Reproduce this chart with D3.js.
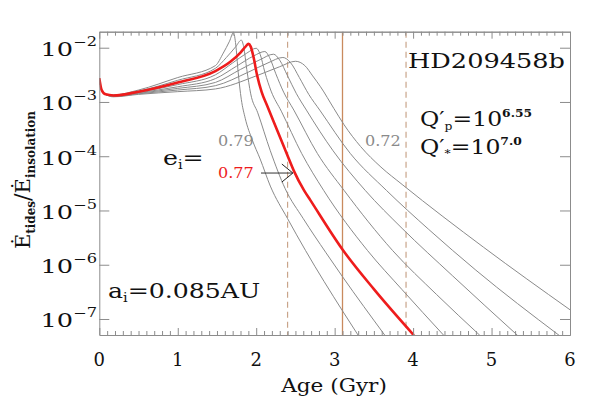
<!DOCTYPE html>
<html>
<head>
<meta charset="utf-8">
<script src="https://cdn.jsdelivr.net/npm/d3@7"></script>
<style>
  body { margin: 0; background: #fff; }
  text { font-family: "DejaVu Serif", serif; fill: #111; }
</style>
</head>
<body>
<svg id="chart" width="599" height="399"></svg>
<script>
// tidal heating / insolation vs age, one curve per initial eccentricity
// values are [age (Gyr), log10(Edot_tides / Edot_insolation)]
let eccs = [0.79, 0.78, 0.77, 0.76, 0.75, 0.74, 0.73, 0.72]
let redEcc = 0.77

let c079 = [[0,-2.56],[0.03,-2.78],[0.08,-2.86],[0.18,-2.87],[0.5,-2.78],[1.0,-2.55],[1.48,-2.33],[1.58,-2.10],[1.66,-1.88],[1.71,-1.72],[1.74,-1.95],[1.77,-2.45],[1.81,-2.95],[1.86,-3.3],[1.95,-3.7],[2.05,-4.05],[2.18,-4.55],[2.40,-5.15],[2.63,-5.74],[3.10,-6.85],[3.30,-7.3]]
let c078 = [[0,-2.56],[0.03,-2.78],[0.08,-2.86],[0.18,-2.875],[0.5,-2.80],[1.0,-2.60],[1.48,-2.38],[1.62,-2.18],[1.74,-1.98],[1.81,-1.86],[1.84,-1.98],[1.88,-2.4],[1.93,-2.85],[2.02,-3.2],[2.18,-3.9],[2.37,-4.6],[2.60,-5.15],[2.89,-5.78],[3.10,-6.22],[3.64,-7.3]]
let c077 = [[0,-2.56],[0.03,-2.78],[0.08,-2.86],[0.18,-2.88],[0.5,-2.81],[1.0,-2.64],[1.48,-2.43],[1.67,-2.26],[1.80,-2.09],[1.87,-1.97],[1.90,-1.93],[1.93,-1.98],[1.97,-2.2],[2.01,-2.5],[2.07,-2.82],[2.14,-3.07],[2.27,-3.53],[2.40,-3.99],[2.48,-4.27],[2.61,-4.63],[2.69,-4.81],[3.10,-5.72],[3.5,-6.45],[4.01,-7.3]]
let c076 = [[0,-2.56],[0.03,-2.78],[0.08,-2.86],[0.18,-2.885],[0.5,-2.82],[1.0,-2.68],[1.48,-2.50],[1.70,-2.28],[1.88,-2.10],[2.00,-2.01],[2.05,-2.12],[2.11,-2.45],[2.19,-2.8],[2.32,-3.17],[2.58,-3.95],[2.86,-4.63],[3.42,-5.74],[3.86,-6.46],[4.39,-7.3]]
let c075 = [[0,-2.56],[0.03,-2.78],[0.08,-2.86],[0.18,-2.89],[0.5,-2.83],[1.0,-2.72],[1.48,-2.57],[1.75,-2.34],[1.97,-2.15],[2.11,-2.07],[2.17,-2.18],[2.25,-2.48],[2.35,-2.82],[2.48,-3.15],[2.78,-3.95],[3.12,-4.63],[3.74,-5.74],[4.30,-6.55],[4.85,-7.3]]
let c074 = [[0,-2.56],[0.03,-2.78],[0.08,-2.86],[0.18,-2.895],[0.5,-2.84],[1.0,-2.75],[1.48,-2.64],[1.80,-2.40],[2.05,-2.22],[2.22,-2.12],[2.30,-2.23],[2.40,-2.52],[2.51,-2.84],[2.64,-3.15],[2.98,-3.9],[3.39,-4.63],[3.86,-5.33],[4.5,-6.2],[5.33,-7.3]]
let c073 = [[0,-2.56],[0.03,-2.78],[0.08,-2.86],[0.18,-2.90],[0.5,-2.85],[1.0,-2.78],[1.48,-2.70],[1.90,-2.45],[2.15,-2.28],[2.34,-2.18],[2.44,-2.28],[2.55,-2.55],[2.67,-2.86],[2.81,-3.15],[3.2,-3.95],[3.66,-4.63],[4.2,-5.35],[4.8,-6.1],[5.86,-7.3]]
let c072 = [[0,-2.56],[0.03,-2.78],[0.08,-2.86],[0.18,-2.905],[0.5,-2.86],[1.0,-2.81],[1.48,-2.76],[2.00,-2.52],[2.30,-2.35],[2.50,-2.25],[2.62,-2.33],[2.72,-2.52],[2.82,-2.72],[2.99,-3.12],[3.12,-3.42],[3.33,-3.82],[3.59,-4.2],[3.86,-4.52],[4.9,-5.68],[6.0,-6.83]]
let curves = [c079, c078, c077, c076, c075, c074, c073, c072]

// vertical markers (Gyr)
let dashedAges = [2.40, 3.91]
let solidAge = 3.10

let xTicks = [0, 1, 2, 3, 4, 5, 6]
let yTickExps = [-2, -3, -4, -5, -6, -7]

let svg = d3.select('#chart')
let mLeft = 99.3, mRight = 570, mTop = 31.7, mBottom = 335

let x = d3.scaleLinear().domain([0, 6]).range([mLeft, mRight])
let y = d3.scaleLog().domain([Math.pow(10, -7.295), Math.pow(10, -1.705)]).range([mBottom, mTop])

svg.append('clipPath').attr('id', 'clip')
    .append('rect').attr('x', mLeft).attr('y', mTop).attr('width', mRight - mLeft).attr('height', mBottom - mTop)

let plot = svg.append('g').attr('clip-path', 'url(#clip)')

// vertical lines
plot.selectAll('.vdash').data(dashedAges).enter().append('line')
    .attr('x1', d => x(d)).attr('x2', d => x(d))
    .attr('y1', mTop).attr('y2', mBottom)
    .attr('stroke', '#c9a48a').attr('stroke-width', 1.2)
    .attr('stroke-dasharray', '6,4')
plot.append('line')
    .attr('x1', x(solidAge)).attr('x2', x(solidAge))
    .attr('y1', mTop).attr('y2', mBottom)
    .attr('stroke', '#c98a5e').attr('stroke-width', 1.3)

let line = d3.line()
    .x(d => x(d[0]))
    .y(d => y(Math.pow(10, d[1])))
    .curve(d3.curveMonotoneX)

// grey curves first, red on top
curves.forEach(function (c, i) {
    if (eccs[i] === redEcc) return
    plot.append('path').datum(c)
        .attr('d', line)
        .attr('fill', 'none')
        .attr('stroke', '#8a8a8a')
        .attr('stroke-width', 1)
})
plot.append('path').datum(curves[eccs.indexOf(redEcc)])
    .attr('d', line)
    .attr('fill', 'none')
    .attr('stroke', '#ee1c1c')
    .attr('stroke-width', 2.6)

// axes, ticks inward
let axisColor = '#8c8c8c'
let minorX = d3.range(0, 61).map(d => d / 10).filter(d => d % 1 !== 0)
let yVals = yTickExps.map(e => Math.pow(10, e))

function styleAxis(g) {
    g.selectAll('path, line').attr('stroke', axisColor)
    g.selectAll('text').remove()
}
svg.append('g').attr('transform', 'translate(0,' + mBottom + ')')
    .call(d3.axisBottom(x).tickValues(xTicks).tickSize(-7).tickSizeOuter(0)).call(styleAxis)
svg.append('g').attr('transform', 'translate(0,' + mBottom + ')')
    .call(d3.axisBottom(x).tickValues(minorX).tickSize(-4).tickSizeOuter(0)).call(styleAxis)
svg.append('g').attr('transform', 'translate(0,' + mTop + ')')
    .call(d3.axisTop(x).tickValues(xTicks).tickSize(-7).tickSizeOuter(0)).call(styleAxis)
svg.append('g').attr('transform', 'translate(0,' + mTop + ')')
    .call(d3.axisTop(x).tickValues(minorX).tickSize(-4).tickSizeOuter(0)).call(styleAxis)
svg.append('g').attr('transform', 'translate(' + mLeft + ',0)')
    .call(d3.axisLeft(y).tickValues(yVals).tickSize(-10).tickSizeOuter(0)).call(styleAxis)
svg.append('g').attr('transform', 'translate(' + mRight + ',0)')
    .call(d3.axisRight(y).tickValues(yVals).tickSize(-10).tickSizeOuter(0)).call(styleAxis)

// tick labels
svg.selectAll('.xlab').data(xTicks).enter().append('text')
    .attr('x', d => x(d)).attr('y', 366)
    .attr('text-anchor', 'middle')
    .style('font-size', '18px')
    .text(d => d)

yTickExps.forEach(function (e) {
    let t = svg.append('text')
        .attr('transform', 'translate(97,' + (y(Math.pow(10, e)) + 8.5) + ') scale(1.35,1)')
        .attr('text-anchor', 'end')
    t.append('tspan').style('font-size', '19px').text('10')
    t.append('tspan').style('font-size', '12px').attr('dy', -10).text('\u2212' + (-e))
})

// axis titles
svg.append('text')
    .attr('transform', 'translate(334,392) scale(1.2,1)')
    .attr('text-anchor', 'middle')
    .style('font-size', '18px')
    .text('Age (Gyr)')

let yl = svg.append('text')
    .attr('transform', 'translate(30,180) rotate(-90)')
    .attr('text-anchor', 'middle')
yl.append('tspan').style('font-size', '21px').text('\u0116')
yl.append('tspan').style('font-size', '12px').style('font-weight', 'bold').attr('dy', 5).text('tides')
yl.append('tspan').style('font-size', '22px').attr('dy', -5).text('/')
yl.append('tspan').style('font-size', '21px').text('\u0116')
yl.append('tspan').style('font-size', '12px').style('font-weight', 'bold').attr('dy', 5).text('insolation')

// annotations
function bigText(tx, ty, sx) {
    return svg.append('text')
        .attr('transform', 'translate(' + tx + ',' + ty + ') scale(' + sx + ',1)')
        .style('font-size', '21px')
}
bigText(408, 68, 1.22).text('HD209458b')

let qp = bigText(420, 126, 1.12)
qp.append('tspan').text('Q\u2032')
qp.append('tspan').style('font-size', '11px').attr('dy', 4).text('p')
qp.append('tspan').attr('dy', -4).text('=10')
qp.append('tspan').style('font-size', '11px').style('font-weight', 'bold').attr('dy', -9).text('6.55')

let qs = bigText(420, 154, 1.12)
qs.append('tspan').text('Q\u2032')
qs.append('tspan').style('font-size', '11px').attr('dy', 3).text('*')
qs.append('tspan').attr('dy', -3).text('=10')
qs.append('tspan').style('font-size', '11px').style('font-weight', 'bold').attr('dy', -9).text('7.0')

let ei = bigText(163, 165, 1.2)
ei.append('tspan').text('e')
ei.append('tspan').style('font-size', '12px').attr('dy', 4).text('i')
ei.append('tspan').attr('dy', -4).text('=')

let ai = bigText(108, 298, 1.2)
ai.append('tspan').text('a')
ai.append('tspan').style('font-size', '12px').attr('dy', 4).text('i')
ai.append('tspan').attr('dy', -4).text('=0.085AU')

svg.append('text').attr('transform', 'translate(218,146) scale(1.15,1)')
    .style('font-size', '14px').style('fill', '#8a8a8a').text(eccs[0].toFixed(2))
svg.append('text').attr('transform', 'translate(218,178) scale(1.15,1)')
    .style('font-size', '14px').style('fill', '#ee1c1c').text(redEcc.toFixed(2))
svg.append('text').attr('transform', 'translate(365,146) scale(1.15,1)')
    .style('font-size', '14px').style('fill', '#8a8a8a').text(eccs[eccs.length - 1].toFixed(2))

// arrow to the red curve
let arrowAge = 2.48
let tipX = x(arrowAge) - 1, tipY = y(Math.pow(10, -4.31))
svg.append('line').attr('x1', 261).attr('y1', tipY).attr('x2', tipX).attr('y2', tipY)
    .attr('stroke', '#333').attr('stroke-width', 1)
svg.append('path')
    .attr('d', 'M' + (tipX - 11) + ',' + (tipY - 9) + 'L' + tipX + ',' + tipY + 'L' + (tipX - 11) + ',' + (tipY + 9))
    .attr('fill', 'none').attr('stroke', '#222').attr('stroke-width', 1)
</script>
</body>
</html>
